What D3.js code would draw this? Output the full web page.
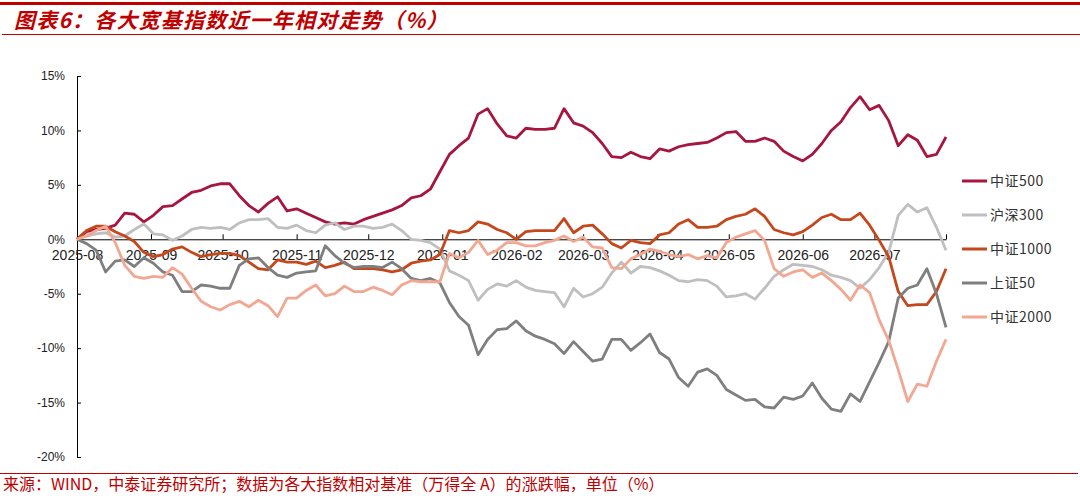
<!DOCTYPE html>
<html>
<head>
<meta charset="utf-8">
<script src="https://cdn.jsdelivr.net/npm/d3@7"></script>
<style>
body { margin: 0; background: #fff; }
svg { display: block; }
</style>
</head>
<body>
<svg width="1080" height="498"></svg>
<script>
// Dates of the sampled points (every few days over the year)
var dates = [
    '2025-08-01','2025-08-05','2025-08-09','2025-08-13','2025-08-17','2025-08-21','2025-08-25','2025-08-29',
    '2025-09-02','2025-09-06','2025-09-10','2025-09-14','2025-09-18','2025-09-22','2025-09-26','2025-09-30',
    '2025-10-04','2025-10-08','2025-10-12','2025-10-16','2025-10-20','2025-10-24','2025-10-28',
    '2025-11-01','2025-11-05','2025-11-09','2025-11-13','2025-11-17','2025-11-21','2025-11-25','2025-11-29',
    '2025-12-03','2025-12-07','2025-12-11','2025-12-15','2025-12-19','2025-12-23','2025-12-27','2025-12-31',
    '2026-01-04','2026-01-08','2026-01-12','2026-01-16','2026-01-20','2026-01-24','2026-01-28',
    '2026-02-01','2026-02-05','2026-02-09','2026-02-13','2026-02-17','2026-02-21','2026-02-25',
    '2026-03-01','2026-03-05','2026-03-09','2026-03-13','2026-03-17','2026-03-21','2026-03-25','2026-03-29',
    '2026-04-02','2026-04-06','2026-04-10','2026-04-14','2026-04-18','2026-04-22','2026-04-26','2026-04-30',
    '2026-05-04','2026-05-08','2026-05-12','2026-05-16','2026-05-20','2026-05-24','2026-05-28',
    '2026-06-01','2026-06-05','2026-06-09','2026-06-13','2026-06-17','2026-06-21','2026-06-25','2026-06-29',
    '2026-07-03','2026-07-07','2026-07-11','2026-07-15','2026-07-19','2026-07-23','2026-07-27','2026-07-31'
];

// Relative performance (%) per index
var zz500 = [0,0.7,0.9,1.0,1.3,2.4,2.3,1.6, 2.2,3.0,3.1,3.7,4.3,4.5,4.9,5.1, 5.1,4.0,3.1,2.5,3.3,3.9,2.6,
    2.8,2.4,2.0,1.6,1.4,1.5,1.4,1.8, 2.1,2.4,2.7,3.1,3.8,4.0,4.6,6.2, 7.8,8.6,9.3,11.5,12.0,10.6,9.5,
    9.3,10.2,10.1,10.1,10.2,12.0,10.7, 10.4,9.8,8.8,7.6,7.5,8.0,7.6,7.4, 8.3,8.1,8.5,8.7,8.8,8.9,9.3,9.8,
    9.9,9.0,9.0,9.3,9.0,8.1,7.6, 7.2,7.8,8.8,10.0,10.8,12.1,13.1,11.9, 12.3,10.9,8.6,9.6,9.1,7.6,7.8,9.4];
var hs300 = [0,0.3,0.5,0.6,0.2,0.3,0.9,1.4, 0.5,0.4,-0.1,0.3,0.9,1.1,1.0,1.1, 0.9,1.5,1.8,1.8,1.9,1.1,1.0,
    1.3,0.8,0.6,1.3,1.5,0.9,1.2,1.2, 1.0,1.1,1.4,0.8,0,-0.1,-0.3,-0.9, -2.9,-3.3,-3.8,-5.6,-4.6,-4.1,-4.3,
    -3.8,-4.4,-4.7,-4.8,-4.9,-6.2,-4.5, -5.3,-5.0,-4.4,-3.1,-2.1,-3.1,-2.5,-2.6, -2.9,-3.3,-3.8,-3.9,-3.7,-3.8,-4.3,-5.3,
    -5.2,-5.0,-5.5,-4.5,-3.4,-2.8,-2.3, -2.4,-2.5,-2.8,-3.3,-3.5,-3.8,-4.5,-3.7, -2.6,-1.2,2.2,3.2,2.5,2.9,1.1,-1.0];
var zz1000 = [0,0.8,1.2,1.2,0.7,0.3,-0.2,-1.2, -1.6,-1.4,-0.9,-0.7,-1.2,-1.6,-1.4,-1.3, -1.3,-1.5,-2.1,-2.7,-2.8,-1.9,-2.1,
    -2.1,-2.3,-2.0,-2.6,-2.4,-2.1,-2.7,-2.7, -2.7,-2.8,-3.0,-2.8,-2.2,-2.0,-1.9,-1.4, 0.8,0.6,0.8,1.6,1.4,0.9,0.6,
    0.0,0.7,0.8,0.8,0.8,1.9,0.6, 1.2,1.3,0.5,-0.4,-0.8,-0.1,-0.3,-0.4, 0.4,0.6,1.4,1.8,1.1,1.1,1.2,1.8,
    2.1,2.3,2.8,2.1,0.9,0.6,0.4, 0.7,1.3,2.0,2.3,1.8,1.8,2.4,1.3, -0.1,-1.6,-4.8,-6.1,-6.0,-6.0,-4.8,-2.7];
var sz50 = [0,-0.4,-1.0,-3.0,-2.0,-1.9,-2.5,-1.7, -2.2,-3.0,-3.3,-4.8,-4.8,-4.2,-4.3,-4.5, -4.5,-2.4,-1.8,-1.7,-2.6,-3.3,-3.5,
    -3.1,-3.0,-2.9,-0.6,-1.5,-2.2,-2.6,-2.5, -2.5,-2.6,-2.1,-2.7,-3.6,-3.8,-3.6,-4.0, -5.8,-7.1,-7.9,-10.6,-9.2,-8.3,-8.2,
    -7.5,-8.4,-8.9,-9.2,-9.6,-10.5,-9.4, -10.3,-11.2,-11.0,-9.2,-9.2,-10.2,-9.5,-8.7, -10.4,-11.0,-12.7,-13.5,-12.2,-11.9,-12.5,-13.8,
    -14.3,-14.8,-14.7,-15.4,-15.5,-14.5,-14.7, -14.4,-13.2,-14.6,-15.6,-15.8,-14.2,-14.9,-13.1, -11.3,-9.4,-5.4,-4.5,-4.2,-2.7,-5.0,-8.1];
var zz2000 = [0,0.3,0.8,1.2,-0.3,-2.4,-3.4,-3.6, -3.4,-3.5,-2.6,-3.2,-4.5,-5.7,-6.2,-6.5, -6.0,-5.7,-6.2,-5.6,-6.1,-7.1,-5.4,
    -5.4,-4.7,-4.2,-5.2,-5.0,-4.3,-4.8,-4.8, -4.4,-4.7,-5.1,-4.2,-3.8,-3.9,-3.9,-3.9, -1.3,-1.7,-1.2,-0.1,-1.4,-1.0,-0.3,
    -0.3,-0.6,-0.6,-0.3,-0.1,0.3,-0.2, 0.2,-0.7,-0.8,-2.6,-2.7,-1.8,-1.4,-0.9, -1.1,-1.4,-1.6,-1.4,-1.8,-1.5,-1.7,-0.3,
    0.2,0.5,0.8,-0.1,-2.7,-3.4,-3.0, -2.8,-3.5,-3.1,-3.8,-4.6,-5.6,-4.2,-4.9, -7.4,-9.3,-12.0,-14.9,-13.3,-13.5,-11.2,-9.2];

var seriesNames = ['中证500', '沪深300', '中证1000', '上证50', '中证2000'];
var seriesColors = ['#a6163f', '#bfbfbf', '#c5481c', '#7f7f7f', '#f2a792'];
var seriesValues = [zz500, hs300, zz1000, sz50, zz2000];

var yTicks = [15, 10, 5, 0, -5, -10, -15, -20];
var monthTicks = ['2025-08','2025-09','2025-10','2025-11','2025-12','2026-01','2026-02',
                  '2026-03','2026-04','2026-05','2026-06','2026-07'];

var parseDate = d3.timeParse('%Y-%m-%d');
var parseMonth = d3.timeParse('%Y-%m');

var svg = d3.select('svg');
var cnFont = '"Noto Sans CJK SC", "Noto Sans", sans-serif';
var numFont = '"Liberation Sans", Arial, sans-serif';

// Header: thick red rule, title, thin red rule
svg.append('rect')
    .attr('x', 0).attr('y', 2)
    .attr('width', 1080).attr('height', 3)
    .attr('fill', '#c00000');
svg.append('text')
    .attr('x', 14).attr('y', 28)
    .attr('font-family', cnFont)
    .attr('font-size', 21)
    .attr('font-weight', 'bold')
    .attr('font-style', 'italic')
    .attr('letter-spacing', 1.2)
    .attr('fill', '#c00000')
    .text('图表6：各大宽基指数近一年相对走势（%）');
svg.append('line')
    .attr('x1', 2).attr('x2', 1080)
    .attr('y1', 34.5).attr('y2', 34.5)
    .attr('stroke', '#c00000').attr('stroke-width', 1);

// Scales
var xScale = d3.scaleTime()
    .domain([parseDate('2025-08-01'), parseDate('2026-07-31')])
    .range([77, 946]);
var yScale = d3.scaleLinear()
    .domain([-20, 15])
    .range([457, 76]);

// Y axis (ticks pointing inward)
var yAxisG = svg.append('g')
    .attr('transform', 'translate(77,0)')
    .call(d3.axisLeft(yScale)
        .tickValues(yTicks)
        .tickFormat(function(d) { return d + '%'; })
        .tickSizeInner(-4)
        .tickSizeOuter(0)
        .tickPadding(12));
yAxisG.selectAll('text')
    .attr('font-family', numFont)
    .attr('font-size', 12)
    .attr('fill', '#222');

// X axis on the zero line, month ticks pointing upward
var xTickDates = monthTicks.map(parseMonth).concat([parseDate('2026-07-31')]);
var xAxisG = svg.append('g')
    .attr('transform', 'translate(0,' + yScale(0) + ')')
    .call(d3.axisBottom(xScale)
        .tickValues(xTickDates)
        .tickFormat(function(d, i) { return i < monthTicks.length ? monthTicks[i] : ''; })
        .tickSizeInner(-5)
        .tickSizeOuter(0)
        .tickPadding(11));
xAxisG.selectAll('text')
    .attr('font-family', numFont)
    .attr('font-size', 14)
    .attr('fill', '#222');

svg.selectAll('.domain, .tick line').attr('stroke', '#000');

// Series lines
var line = d3.line()
    .x(function(d) { return xScale(d.date); })
    .y(function(d) { return yScale(d.v); });

var seriesData = seriesNames.map(function(name, i) {
    return {
        name: name,
        color: seriesColors[i],
        points: dates.map(function(d, j) { return {date: parseDate(d), v: seriesValues[i][j]}; })
    };
});

svg.append('g').selectAll('path')
    .data(seriesData)
    .enter()
    .append('path')
    .attr('d', function(d) { return line(d.points); })
    .attr('fill', 'none')
    .attr('stroke', function(d) { return d.color; })
    .attr('stroke-width', 2.8)
    .attr('stroke-linejoin', 'round');

// Legend
var legendG = svg.append('g')
    .attr('transform', 'translate(962,181)');
var legendItems = legendG.selectAll('g')
    .data(seriesData)
    .enter()
    .append('g')
    .attr('transform', function(d, i) { return 'translate(0,' + (i * 34) + ')'; });
legendItems.append('line')
    .attr('x1', 0).attr('x2', 25)
    .attr('stroke', function(d) { return d.color; })
    .attr('stroke-width', 3);
legendItems.append('text')
    .attr('x', 28).attr('y', 5)
    .attr('font-family', cnFont)
    .attr('font-size', 14)
    .attr('letter-spacing', 0.5)
    .attr('fill', '#333')
    .text(function(d) { return d.name; });

// Footer
svg.append('line')
    .attr('x1', 0).attr('x2', 1078)
    .attr('y1', 473.5).attr('y2', 473.5)
    .attr('stroke', '#c00000').attr('stroke-width', 1);
svg.append('text')
    .attr('x', 3).attr('y', 490)
    .attr('font-family', cnFont)
    .attr('font-size', 16)
    .attr('fill', '#c00000')
    .text('来源：WIND，中泰证券研究所；数据为各大指数相对基准（万得全 A）的涨跌幅，单位（%）');
</script>
</body>
</html>
